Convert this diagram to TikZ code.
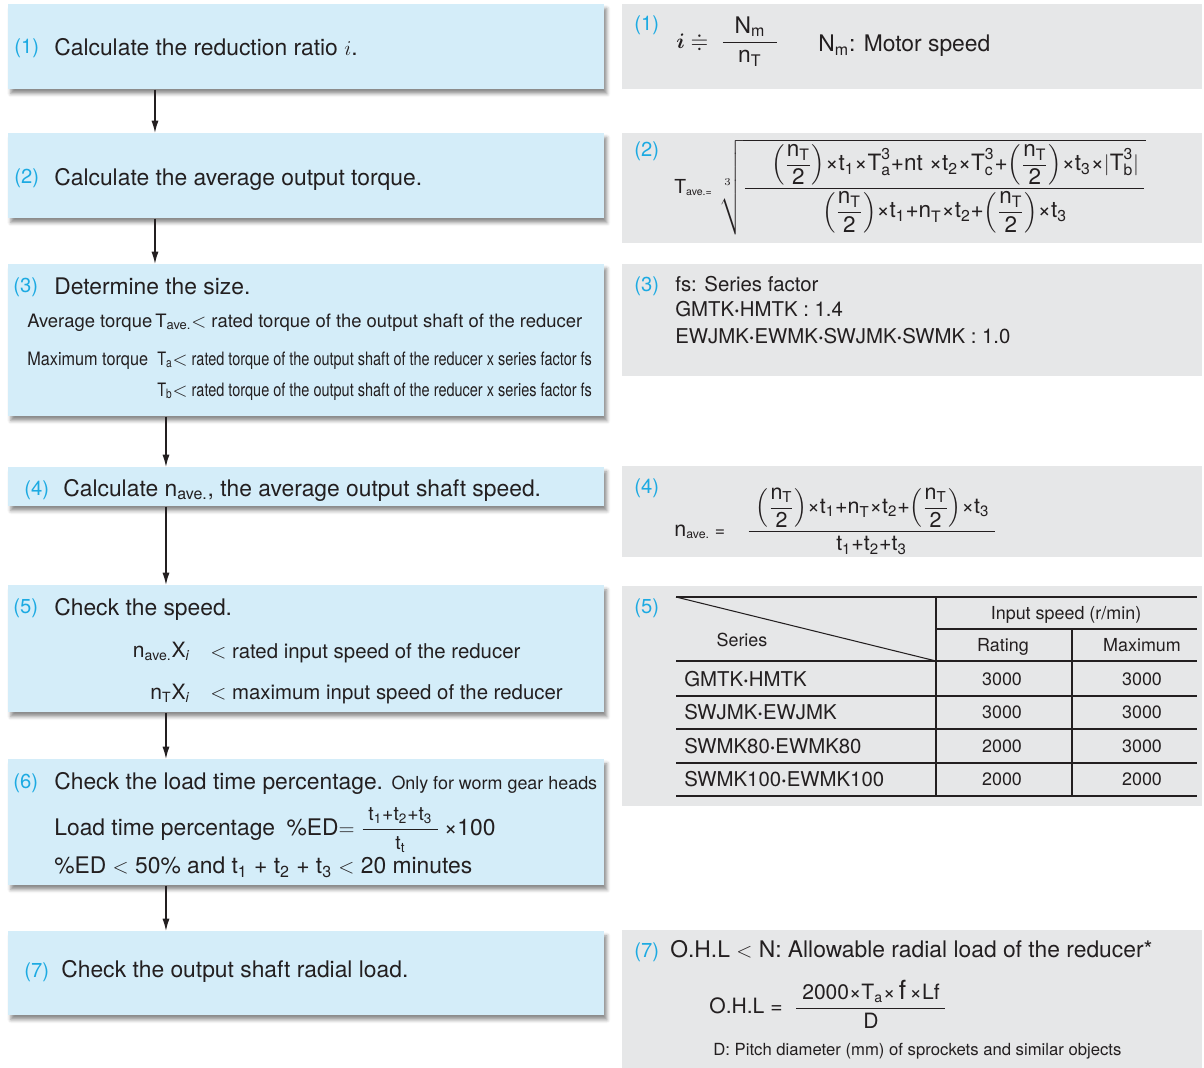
\documentclass[tikz,border=0pt]{standalone}
\usepackage{amsmath,amssymb}
\usepackage{fontspec}
\setmainfont{TeX Gyre Heros}
\newfontfamily\narrowfont{TeX Gyre Heros}[FakeStretch=0.785]
\newfontfamily\semifont{TeX Gyre Heros}[FakeStretch=0.88]
\usetikzlibrary{arrows.meta,shadows.blur}

\definecolor{boxblue}{RGB}{212,237,249}
\definecolor{boxgray}{RGB}{230,231,232}
\definecolor{numcyan}{RGB}{28,170,226}
\definecolor{ink}{RGB}{35,31,32}

\newcommand\fsz[1]{\fontsize{#1}{#1}\selectfont}
\newcommand\sub[1]{\textsubscript{#1}}
\newcommand\lt{$<$}
\newcommand\pt{\textbf{·}}
\newcommand\nhalf{{\left(\dfrac{\text{n\sub T}}{\text{2}}\right)}}
\newcommand\Tcube[1]{{\text{T}^{\text{3}}_{\text{#1}}}}

\tikzset{
  stepbox/.style={fill=boxblue, anchor=north west, minimum width=11.92cm, inner sep=0pt,
    blur shadow={shadow xshift=1.5pt, shadow yshift=-2.5pt, shadow blur radius=2pt, shadow opacity=45}},
  notebox/.style={fill=boxgray, anchor=north west, minimum width=11.6cm, inner sep=0pt},
  num/.style={text=numcyan, anchor=base west, inner sep=0pt, font=\fsz{11.5}},
  txt/.style={text=ink, anchor=base west, inner sep=0pt, font=\fsz{13}},
  small/.style={txt, font=\fsz{11.6}},
  arr/.style={draw=ink, line width=0.8pt, -{Latex[length=7pt,width=4pt]}},
  rule/.style={draw=ink, line width=0.6pt},
}

\begin{document}
\begin{tikzpicture}[x=0.02cm,y=-0.02cm]
\useasboundingbox (0,0) rectangle (1204,1068);

% steps on the left
\node[stepbox, minimum height=1.70cm] (s1) at (8,4) {};
\node[stepbox, minimum height=1.70cm] (s2) at (8,133) {};
\node[stepbox, minimum height=3.04cm] (s3) at (8,264) {};
\node[stepbox, minimum height=0.78cm] (s4) at (8,467) {};
\node[stepbox, minimum height=2.54cm] (s5) at (8,585) {};
\node[stepbox, minimum height=2.52cm] (s6) at (8,759) {};
\node[stepbox, minimum height=1.68cm] (s7) at (8,931) {};

% notes on the right
\node[notebox, minimum height=1.70cm] (g1) at (622,4) {};
\node[notebox, minimum height=2.20cm] (g2) at (622,133) {};
\node[notebox, minimum height=2.24cm] (g3) at (622,264) {};
\node[notebox, minimum height=1.82cm] (g4) at (622,466) {};
\node[notebox, minimum height=4.40cm] (g5) at (622,586) {};
\node[notebox, minimum height=2.76cm] (g7) at (622,930) {};

% flow
\draw[arr] ([xshift=2.94cm]s1.south west) -- ([xshift=2.94cm]s2.north west);
\draw[arr] ([xshift=2.94cm]s2.south west) -- ([xshift=2.94cm]s3.north west);
\draw[arr] ([xshift=3.16cm]s3.south west) -- ([xshift=3.16cm]s4.north west);
\draw[arr] ([xshift=3.16cm]s4.south west) -- ([xshift=3.16cm]s5.north west);
\draw[arr] ([xshift=3.16cm]s5.south west) -- ([xshift=3.16cm]s6.north west);
\draw[arr] ([xshift=3.16cm]s6.south west) -- ([xshift=3.16cm]s7.north west);

% (1)
\node[num] (n1) at (14,54) {(1)};
\node[txt] (t1) at (54,56) {Calculate the reduction ratio $i$.};
\node[num] (r1) at (634,31) {(1)};
\node[anchor=west, inner sep=0pt, text=ink, font=\fsz{13}] (f1) at (676,42)
  {$\boldsymbol{i}\doteqdot\ \dfrac{\;\;\text{N\sub m}\;\;}{\text{n\sub T}}$};
\node[txt] (m1) at (818,52) {N\sub m: Motor speed};

% (2)
\node[num] (n2) at (14,183) {(2)};
\node[txt] (t2) at (54,186) {Calculate the average output torque.};
\node[num] (r2) at (634,156) {(2)};
\node[anchor=west, inner sep=0pt, text=ink, font=\fsz{12.8}] (f2) at (674,187)
  {$\text{\fsz{11}T{\fsz{9}\sub{ave.=}}}\;\sqrt[3]{\dfrac{\hspace{15pt}\nhalf\text{×t\sub1×}\Tcube{a}\text{+nt ×t\sub2×}\Tcube{c}\text{+}\nhalf\text{×t\sub3×}|\Tcube{b}|\hspace{3pt}}{\nhalf\text{×t\sub1+n\sub T×t\sub2+}\nhalf\text{×t\sub3}}}$};

% (3)
\node[num] (n3) at (13,292) {(3)};
\node[txt] (t3) at (54,294) {Determine the size.};
\node[txt, font=\fsz{10.5}] (a3) at (27,327) {Average torque};
\node[txt, font=\fsz{10.5}] (a3r) at (155,327) {T\sub{ave.}\lt{} rated torque of the output shaft of the reducer};
\node[txt, font=\semifont\fsz{10.5}] (b3) at (27,365) {Maximum torque};
\node[txt, font=\narrowfont\fsz{10.5}] (b3r) at (157,365) {T\sub a\lt{} rated torque of the output shaft of the reducer x series factor fs};
\node[txt, font=\narrowfont\fsz{10.5}] (c3r) at (157,396) {T\sub b\lt{} rated torque of the output shaft of the reducer x series factor fs};
\node[num] (r3) at (634,291) {(3)};
\node[small] (fs) at (675,291) {fs: Series factor};
\node[small] (fs1) at (675,316) {GMTK\pt HMTK : 1.4};
\node[small] (fs2) at (675,343) {EWJMK\pt EWMK\pt SWJMK\pt SWMK : 1.0};

% (4)
\node[num] (n4) at (24,495) {(4)};
\node[txt] (t4) at (63,496) {Calculate n\sub{ave.}, the average output shaft speed.};
\node[num] (r4) at (634,493) {(4)};
\node[anchor=west, inner sep=0pt, text=ink, font=\fsz{12.2}] (f4) at (674,521)
  {$\text{n{\fsz{10}\sub{ave.} =}}\quad\dfrac{\hspace{4pt}\nhalf\text{×t\sub1+n\sub T×t\sub2+}\nhalf\text{×t\sub3}\hspace{3pt}}{\text{t\sub1+t\sub2+t\sub3}}$};

% (5)
\node[num] (n5) at (13,613) {(5)};
\node[txt] (t5) at (54,615) {Check the speed.};
\node[txt, font=\fsz{12}, anchor=base east] (v5a) at (190,657) {n\sub{ave.}X\sub{\itshape i}};
\node[small] (w5a) at (210,658) {\lt{} rated input speed of the reducer};
\node[txt, font=\fsz{12}, anchor=base east] (v5b) at (190,699) {n\sub TX\sub{\itshape i}};
\node[small] (w5b) at (210,699) {\lt{} maximum input speed of the reducer};
\node[num] (r5) at (634,613) {(5)};

% speed table
\draw[rule] (676,597) -- (1197,597);
\draw[rule] (936,629) -- (1197,629);
\foreach \y in {661,696,729,763,796}
  \draw[rule] (676,\y) -- (1197,\y);
\draw[rule] (936,597) -- (936,796);
\draw[rule] (1072,629) -- (1072,796);
\draw[rule] (676,597) -- (936,661);
\node[txt, font=\fsz{10.2}, anchor=base] (hin) at (1066,619) {Input speed (r/min)};
\node[txt, font=\fsz{10.2}, anchor=base] (hse) at (742,646) {Series};
\node[txt, font=\fsz{10.2}, anchor=base] (hra) at (1003,651) {Rating};
\node[txt, font=\fsz{10.2}, anchor=base] (hmx) at (1142,651) {Maximum};
\foreach \y/\series/\rate/\maxi [count=\r] in {686/GMTK\pt HMTK/3000/3000, 719/SWJMK\pt EWJMK/3000/3000,
    753/SWMK80\pt EWMK80/2000/3000, 786/SWMK100\pt EWMK100/2000/2000} {
  \node[small] (row\r) at (684,\y) {\series};
  \node[txt, font=\fsz{10.2}, anchor=base] (rate\r) at (1002,\y-1) {\rate};
  \node[txt, font=\fsz{10.2}, anchor=base] (maxi\r) at (1142,\y-1) {\maxi};
}

% (6)
\node[num] (n6) at (13,788) {(6)};
\node[txt] (t6) at (54,789) {Check the load time percentage. {\fsz{10.2}Only for worm gear heads}};
\node[txt] (ed) at (54,835) {Load time percentage\enspace\%ED$=\dfrac{\;\text{\fsz{11}t\sub1+t\sub2+t\sub3}\;}{\text{\fsz{11}t\sub t}}$\,×100};
\node[txt] (ed2) at (54,873) {\%ED \lt{} 50\% and t\sub1 + t\sub2 + t\sub3 \lt{} 20 minutes};

% (7)
\node[num] (n7) at (24,977) {(7)};
\node[txt] (t7) at (61,977) {Check the output shaft radial load.};
\node[num] (r7) at (634,957) {(7)};
\node[txt] (ohl) at (670,957) {O.H.L \lt{} N: Allowable radial load of the reducer*};
\node[anchor=west, inner sep=0pt, text=ink, font=\fsz{12}] (f7) at (709,1004)
  {O.H.L =\; $\dfrac{\;\text{2000×T\sub a×\,{\fsz{15}f}\,×Lf}\;}{\text{D}}$};
\node[txt, font=\fsz{9.5}] (pd) at (713,1055) {D: Pitch diameter (mm) of sprockets and similar objects};

\end{tikzpicture}
\end{document}
